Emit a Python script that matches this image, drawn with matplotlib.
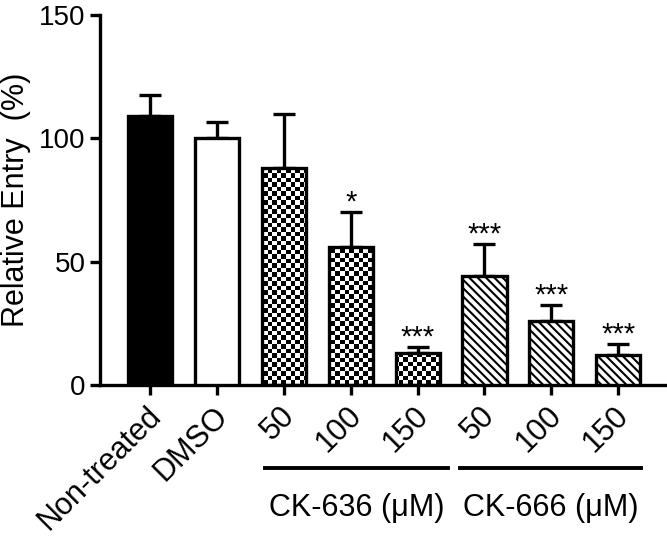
import numpy as np
import matplotlib
matplotlib.use('Agg')
import matplotlib.pyplot as plt
import matplotlib.transforms as mtransforms

plt.rcParams['font.family'] = ['Liberation Sans', 'DejaVu Sans']
plt.rcParams['hatch.linewidth'] = 1.5

# data
labels = ['Non-treated', 'DMSO', '50', '100', '150', '50', '100', '150']
values = [109, 100, 88, 56, 13, 44, 26, 12]
errors = [8.5, 6.5, 22, 14, 2.5, 13, 6.5, 4.5]
stars = ['', '', '', '*', '***', '***', '***', '***']
fills = ['solid', 'open', 'checker', 'checker', 'checker', 'hatch', 'hatch', 'hatch']
groups = ['CK-636 (\u03bcM)', 'CK-666 (\u03bcM)']

x = np.arange(len(values))
width = 0.66
lw = 2.4

fig = plt.figure(figsize=(6.67, 5.39), dpi=100)
ax = fig.add_axes([0.15, 0.286, 0.847, 0.686])

bars = ax.bar(x, values, width, color='white', edgecolor='black', linewidth=lw, zorder=3)
for b, f in zip(bars, fills):
    if f == 'solid':
        b.set_facecolor('black')
    elif f == 'hatch':
        b.set_hatch('\\\\\\\\')
    elif f == 'checker':
        # checkerboard fill, clipped to the bar
        b.set_facecolor('none')
        nx, ny = 125, 82
        cb = (np.indices((ny, nx)).sum(axis=0) % 2)
        im = ax.imshow(cb, cmap='gray', extent=[-0.75, 7.7, 0, 150], origin='lower',
                       interpolation='nearest', aspect='auto', zorder=2.5)
        im.set_clip_path(b)

ax.errorbar(x, values, yerr=[np.zeros(len(values)), errors], fmt='none', ecolor='black',
            elinewidth=lw, capsize=8, capthick=lw, zorder=2)

for xi, v, e, s in zip(x, values, errors, stars):
    if s:
        ax.annotate(s, (xi, v + e), xytext=(0, 1), textcoords='offset points',
                    ha='center', va='baseline', fontsize=21)

ax.spines['top'].set_visible(False)
ax.spines['right'].set_visible(False)
ax.spines['left'].set_linewidth(lw)
ax.spines['bottom'].set_linewidth(lw)
ax.set_yticks([0, 50, 100, 150])
ax.tick_params(axis='both', width=lw, length=7)
ax.tick_params(axis='y', labelsize=20)
ax.tick_params(axis='x', labelsize=22, pad=12)
ax.set_xticks(x)
ax.set_xticklabels(labels, rotation=45, ha='right', va='center', rotation_mode='anchor')
shift = mtransforms.ScaledTranslation(6 / 100, 0, fig.dpi_scale_trans)
for t in ax.get_xticklabels():
    t.set_transform(t.get_transform() + shift)
ax.set_ylabel('Relative Entry  (%)', fontsize=22, labelpad=6)
ax.set_ylim(0, 150)
ax.set_xlim(-0.75, 7.7)

# group bars and labels under the dose labels
spans = [(x[2] - 0.28, x[4] + 0.45), (x[5] - 0.37, x[7] + 0.34)]
for (a, b), g in zip(spans, groups):
    ax.plot([a, b], [-33.6, -33.6], color='black', linewidth=2.8, clip_on=False)
    ax.text((a + b) / 2, -50, g, ha='center', va='center', fontsize=22, clip_on=False)

fig.savefig('out.png', dpi=100)
